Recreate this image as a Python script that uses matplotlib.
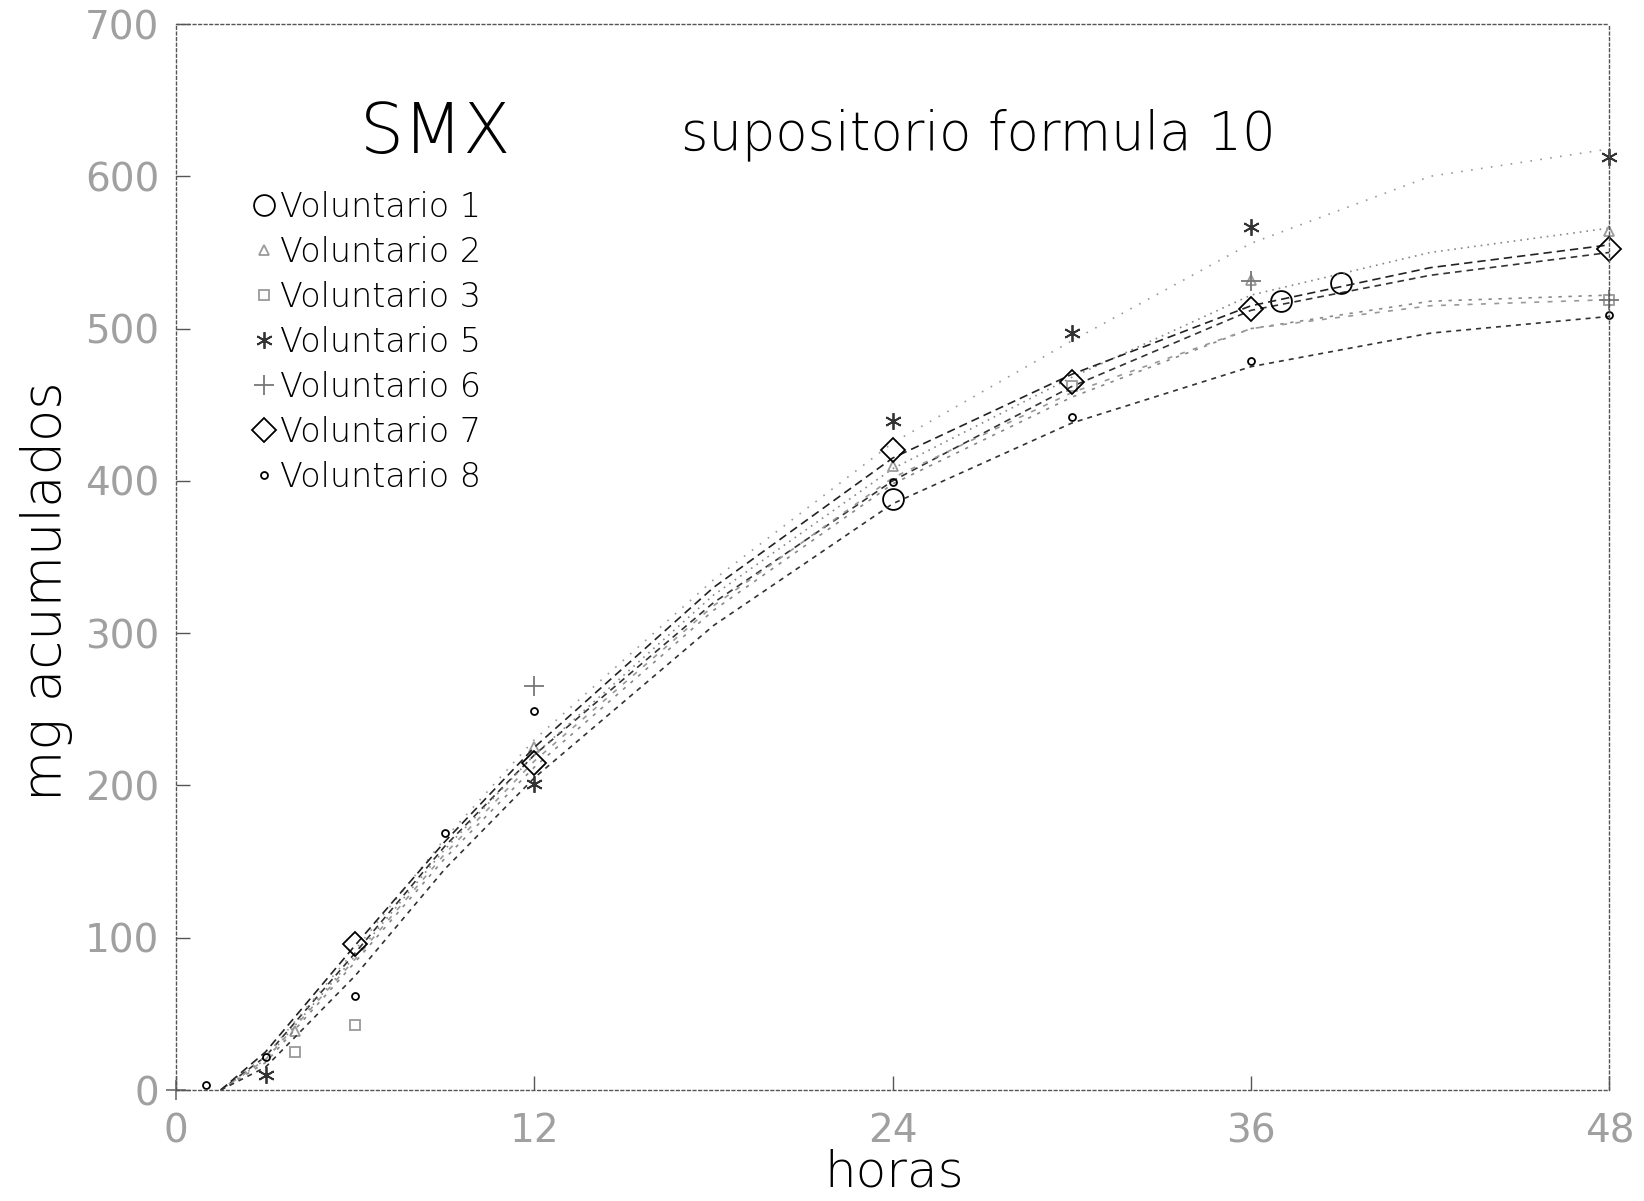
import matplotlib
matplotlib.use("Agg")
import matplotlib.pyplot as plt

# ---- data ----
x_ticks = [0, 12, 24, 36, 48]
y_ticks = [0, 100, 200, 300, 400, 500, 600, 700]

labels = ["Voluntario 1", "Voluntario 2", "Voluntario 3", "Voluntario 5",
          "Voluntario 6", "Voluntario 7", "Voluntario 8"]

# fitted curves (hours, mg)
curve_t = [1.5, 3, 6, 9, 12, 18, 24, 30, 36, 42, 48]
v1_curve = [0, 22, 90, 160, 220, 320, 400, 462, 512, 535, 550]
v2_curve = [0, 20, 88, 158, 220, 325, 408, 468, 522, 550, 566]
v3_curve = [0, 18, 84, 152, 212, 315, 398, 455, 500, 518, 522]
v5_curve = [0, 22, 92, 165, 230, 335, 425, 492, 556, 600, 618]
v6_curve = [0, 20, 86, 155, 216, 318, 402, 458, 500, 515, 519]
v7_curve = [0, 25, 95, 163, 225, 330, 415, 470, 515, 540, 555]
v8_curve = [0, 15, 75, 145, 205, 305, 385, 438, 475, 497, 508]

# observed points (hours, mg)
v1_t = [24, 37, 39]
v1_y = [388, 518, 530]
v2_t = [4, 12, 24, 36, 48]
v2_y = [39, 225, 410, 532, 564]
v3_t = [4, 6, 30, 48]
v3_y = [25, 43, 462, 519]
v5_t = [3, 12, 24, 30, 36, 48]
v5_y = [10, 201, 439, 497, 567, 613]
v6_t = [0, 12, 36, 48]
v6_y = [0, 265, 531, 519]
v7_t = [6, 12, 24, 30, 36, 48]
v7_y = [96, 215, 420, 465, 513, 552]
v8_t = [1, 3, 6, 9, 12, 24, 30, 36, 48]
v8_y = [3, 22, 62, 169, 249, 399, 442, 479, 509]

curves = [v1_curve, v2_curve, v3_curve, v5_curve, v6_curve, v7_curve, v8_curve]
points = [(v1_t, v1_y), (v2_t, v2_y), (v3_t, v3_y), (v5_t, v5_y),
          (v6_t, v6_y), (v7_t, v7_y), (v8_t, v8_y)]

markers = ["o", "^", "s", (6, 2, 0), "+", "D", "o"]
msizes = [15, 7, 7, 12, 14, 12, 5]
mcolors = ["black", "#9a9a9a", "#9a9a9a", "#333333", "#777777", "black", "black"]
dashes = [(4, 3), (1, 3), (2, 4), (1, 5), (3, 5), (5, 3), (3, 3)]
lcolors = ["#333333", "#888888", "#888888", "#999999", "#999999", "#222222", "#333333"]

fig = plt.figure(figsize=(16.44, 12.01), dpi=100)
ax = fig.add_axes([0.107, 0.0924, 0.872, 0.8876])

handles = []
for cy, (t, y), m, ms, mc, d, lc, lab in zip(curves, points, markers, msizes,
                                               mcolors, dashes, lcolors, labels):
    ax.plot(curve_t, cy, color=lc, lw=1.2, dashes=d)
    h, = ax.plot(t, y, linestyle="none", marker=m, markersize=ms,
                 markerfacecolor="none", markeredgecolor=mc, markeredgewidth=1.3,
                 clip_on=False, label=lab)
    handles.append(h)

ax.set_xlim(0, 48)
ax.set_ylim(0, 700)
ax.set_xticks(x_ticks)
ax.set_yticks(y_ticks)
ax.set_xticklabels([str(v) for v in x_ticks])
ax.set_yticklabels([str(v) for v in y_ticks])

for lab in ax.get_xticklabels() + ax.get_yticklabels():
    lab.set_fontfamily(["Liberation Sans Narrow", "DejaVu Sans"])
    lab.set_fontsize(28)
    lab.set_color("#a0a0a0")
ax.tick_params(axis="both", direction="in", length=10, width=1, color="#555555")
ax.tick_params(axis="x", pad=16)
ax.tick_params(axis="y", pad=12)

for sp in ax.spines.values():
    sp.set_linestyle((0, (2, 2)))
    sp.set_linewidth(1.0)
    sp.set_color("#555555")

ax.set_xlabel("horas", fontsize=36, fontfamily=["DejaVu Sans"], fontweight="light",
              va="center")
ax.xaxis.set_label_coords(0.5007, -0.077)
ax.set_ylabel("mg acumulados", fontsize=38, fontfamily=["DejaVu Sans"],
              fontweight="light", va="center")
ax.yaxis.set_label_coords(-0.090, 0.468)

ax.text(0.181, 0.897, "SMX", transform=ax.transAxes, fontsize=50,
        fontfamily=["DejaVu Sans"], fontweight="light", ha="center", va="center")
ax.text(0.56, 0.896, "supositorio formula 10", transform=ax.transAxes, fontsize=38,
        fontfamily=["DejaVu Sans"], fontweight="light", ha="center", va="center")

leg = ax.legend(handles=handles, loc="upper left", bbox_to_anchor=(0.045, 0.856),
                frameon=False, fontsize=24, handlelength=0.6, handletextpad=0.2,
                labelspacing=0.36, borderaxespad=0, numpoints=1)
for txt in leg.get_texts():
    txt.set_fontfamily(["DejaVu Sans"])
    txt.set_fontweight("light")

fig.savefig("out.png", dpi=100, facecolor="white")
